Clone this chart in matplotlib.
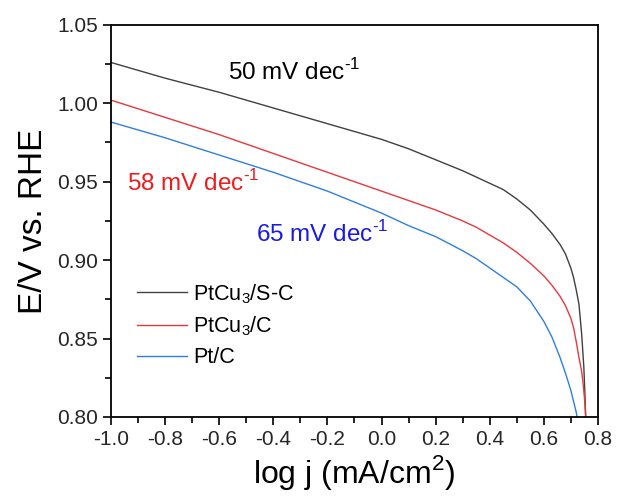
import numpy as np
import matplotlib
matplotlib.use('Agg')
import matplotlib.pyplot as plt
from matplotlib.ticker import MultipleLocator

plt.rcParams['font.family'] = ['Liberation Sans', 'DejaVu Sans']
plt.rcParams['mathtext.fontset'] = 'custom'
plt.rcParams['mathtext.rm'] = 'Liberation Sans'

# Tafel curves
x_sc = np.array([-1.0, -0.8, -0.6, -0.4, -0.2, 0.0, 0.1, 0.2, 0.3, 0.4, 0.45,
                 0.5, 0.55, 0.6, 0.63, 0.66, 0.68, 0.70, 0.71, 0.72, 0.73,
                 0.74, 0.748, 0.752, 0.755])
e_sc = np.array([1.026, 1.016, 1.007, 0.997, 0.987, 0.977, 0.971, 0.964, 0.957,
                 0.949, 0.945, 0.939, 0.932, 0.923, 0.917, 0.910, 0.904, 0.895,
                 0.889, 0.881, 0.872, 0.853, 0.832, 0.815, 0.800])

x_c = np.array([-1.0, -0.8, -0.6, -0.4, -0.2, 0.0, 0.1, 0.2, 0.3, 0.35, 0.4,
                0.45, 0.5, 0.55, 0.6, 0.63, 0.66, 0.68, 0.70, 0.71, 0.72, 0.73,
                0.74, 0.745, 0.75, 0.755])
e_c = np.array([1.002, 0.991, 0.980, 0.968, 0.956, 0.944, 0.938, 0.932, 0.925,
                0.921, 0.916, 0.911, 0.905, 0.898, 0.890, 0.884, 0.877, 0.871,
                0.863, 0.857, 0.848, 0.838, 0.829, 0.822, 0.813, 0.800])

x_pt = np.array([-1.0, -0.8, -0.6, -0.4, -0.2, 0.0, 0.1, 0.2, 0.3, 0.35, 0.4,
                 0.45, 0.5, 0.55, 0.6, 0.63, 0.66, 0.68, 0.70, 0.71, 0.72, 0.723])
e_pt = np.array([0.988, 0.978, 0.967, 0.956, 0.944, 0.930, 0.922, 0.915, 0.906,
                 0.901, 0.895, 0.889, 0.883, 0.874, 0.861, 0.851, 0.838, 0.828,
                 0.817, 0.810, 0.803, 0.800])

labels = ['PtCu$_3$/S-C', 'PtCu$_3$/C', 'Pt/C']
colors = ['#404040', '#e8383d', '#2f7fe0']
slopes = ['50', '58', '65']

fig = plt.figure(figsize=(6.17, 4.97), dpi=100)
ax = fig.add_axes([0.180, 0.161, 0.789, 0.789])

ax.plot(x_sc, e_sc, color=colors[0], lw=1.0, label=labels[0])
ax.plot(x_c, e_c, color=colors[1], lw=1.0, label=labels[1])
ax.plot(x_pt, e_pt, color=colors[2], lw=1.0, label=labels[2])

ax.set_xlim(-1.0, 0.8)
ax.set_ylim(0.80, 1.05)
ax.xaxis.set_major_locator(MultipleLocator(0.2))
ax.xaxis.set_minor_locator(MultipleLocator(0.1))
ax.yaxis.set_major_locator(MultipleLocator(0.05))
ax.yaxis.set_minor_locator(MultipleLocator(0.025))
ax.xaxis.set_major_formatter(plt.FuncFormatter(lambda v, p: f'{v:.1f}'))
ax.yaxis.set_major_formatter(plt.FuncFormatter(lambda v, p: f'{v:.2f}'))
ax.tick_params(which='major', direction='out', length=6, width=1.2,
               labelsize=15, labelcolor='#262626')
ax.tick_params(which='minor', direction='out', length=4, width=1.2)
for s in ax.spines.values():
    s.set_linewidth(1.3)

ax.set_xlabel('log j (mA/cm$^2$)', fontsize=23, labelpad=3)
ax.set_ylabel('E/V vs. RHE', fontsize=24, labelpad=6)

sup = r'$^{\text{-1}}$'
ax.text(-0.568, 1.020, slopes[0] + ' mV dec' + sup, fontsize=17.5,
        color='black', va='center')
ax.text(-0.941, 0.949, slopes[1] + ' mV dec' + sup, fontsize=17.5,
        color='#ee1c1c', va='center')
ax.text(-0.465, 0.917, slopes[2] + ' mV dec' + sup, fontsize=17.5,
        color='#1a1ae6', va='center')

ax.legend(loc='upper left', bbox_to_anchor=(137 / 617, 1 - 282 / 497),
          bbox_transform=fig.transFigure, frameon=False, fontsize=15.5,
          borderpad=0, borderaxespad=0, handlelength=2.3, handletextpad=0.3,
          labelspacing=0.42)

fig.savefig('out.png', dpi=100)
